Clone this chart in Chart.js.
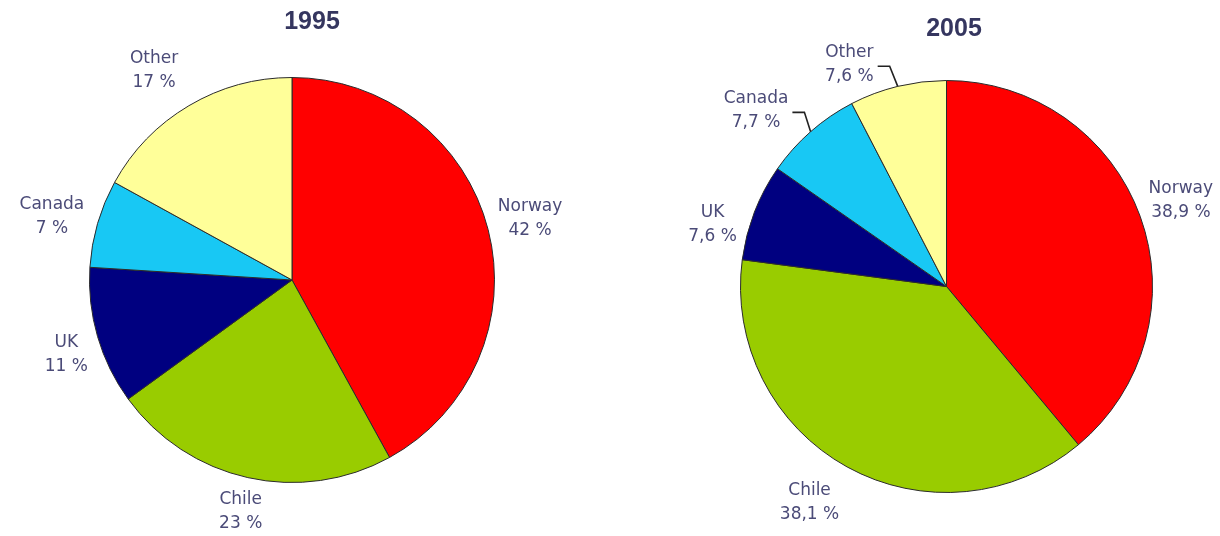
<!DOCTYPE html>
<html>
<head>
<meta charset="utf-8">
<script src="https://cdn.jsdelivr.net/npm/chart.js"></script>
<style>
  body { margin: 0; background: #fff; }
  #wrap { position: relative; width: 1220px; height: 536px; overflow: hidden; }
  .pie { position: absolute; top: 0; width: 610px; height: 536px; }
</style>
</head>
<body>
<div id="wrap">
  <div class="pie" style="left:0"><canvas id="pie1995" width="610" height="536"></canvas></div>
  <div class="pie" style="left:610px"><canvas id="pie2005" width="610" height="536"></canvas></div>
</div>
<script>
// datos
const categories = ['Norway', 'Chile', 'UK', 'Canada', 'Other'];
const share1995 = [42, 23, 11, 7, 17];
const share2005 = [38.9, 38.1, 7.6, 7.7, 7.6];
const years = ['1995', '2005'];

const colores = ['#ff0000', '#99cc00', '#000080', '#18c8f4', '#ffff99'];
const colorTexto = '#4b4b78';
const colorTitulo = '#35365f';

function formato(v) {
    return String(v).replace('.', ',') + ' %';
}

// etiquetas de cada porcion, afuera del pastel (estilo Excel)
const etiquetasPlugin = {
    id: 'etiquetas',
    afterDraw(chart, args, opts) {
        const ctx = chart.ctx;
        const meta = chart.getDatasetMeta(0);
        const valores = chart.data.datasets[0].data;
        ctx.save();
        ctx.font = '17px "DejaVu Sans"';
        ctx.fillStyle = colorTexto;
        ctx.textAlign = 'center';
        ctx.textBaseline = 'middle';
        meta.data.forEach((arc, i) => {
            const p = arc.getProps(['x', 'y', 'startAngle', 'endAngle', 'outerRadius'], true);
            const mid = (p.startAngle + p.endAngle) / 2;
            const dx = Math.cos(mid), dy = Math.sin(mid);
            const l1 = chart.data.labels[i];
            const l2 = formato(valores[i]);
            const w = Math.max(ctx.measureText(l1).width, ctx.measureText(l2).width);
            const h = 40;
            const d = p.outerRadius + 11;
            const ajuste = (opts.ajustes && opts.ajustes[i]) || [0, 0];
            const cx = p.x + dx * d + dx * w / 2 + ajuste[0];
            const cy = p.y + dy * d + dy * h / 2 + ajuste[1];
            ctx.fillText(l1, cx, cy - 12);
            ctx.fillText(l2, cx, cy + 12);
            if (opts.guias && opts.guias[i]) {
                // linea guia hasta el borde
                const x0 = cx + w / 2 + 4, y0 = cy + 2;
                ctx.beginPath();
                ctx.moveTo(x0, y0);
                ctx.lineTo(x0 + 12, y0);
                ctx.lineTo(p.x + dx * p.outerRadius, p.y + dy * p.outerRadius);
                ctx.strokeStyle = '#222';
                ctx.lineWidth = 1.6;
                ctx.stroke();
            }
        });
        // titulo
        ctx.font = 'bold 25px "Liberation Sans", Arial';
        ctx.fillStyle = colorTitulo;
        ctx.fillText(opts.titulo, opts.tituloX, opts.tituloY);
        ctx.restore();
    }
};

function crearPastel(id, valores, padding, etiquetasOpts) {
    new Chart(document.getElementById(id), {
        type: 'pie',
        data: {
            labels: categories,
            datasets: [{
                data: valores,
                backgroundColor: colores,
                borderColor: '#2b2b2b',
                borderWidth: 1
            }]
        },
        options: {
            responsive: false,
            animation: false,
            events: [],
            layout: { padding: padding },
            plugins: {
                legend: { display: false },
                tooltip: { enabled: false },
                etiquetas: etiquetasOpts
            }
        },
        plugins: [etiquetasPlugin]
    });
}

crearPastel('pie1995', share1995,
    { left: 89, right: 115, top: 77, bottom: 53 },
    {
        titulo: years[0], tituloX: 312, tituloY: 22,
        ajustes: [[0, -3], [0, 4], [0, 9], [-4, 2], [-17, -8]],
        guias: [false, false, false, false, false]
    });

crearPastel('pie2005', share2005,
    { left: 130, right: 67, top: 80, bottom: 43 },
    {
        titulo: years[1], tituloX: 344, tituloY: 29,
        ajustes: [[0, -5], [-18, 8], [-9, 24], [-26, 2], [-40, 8]],
        guias: [false, false, false, true, true]
    });
</script>
</body>
</html>
